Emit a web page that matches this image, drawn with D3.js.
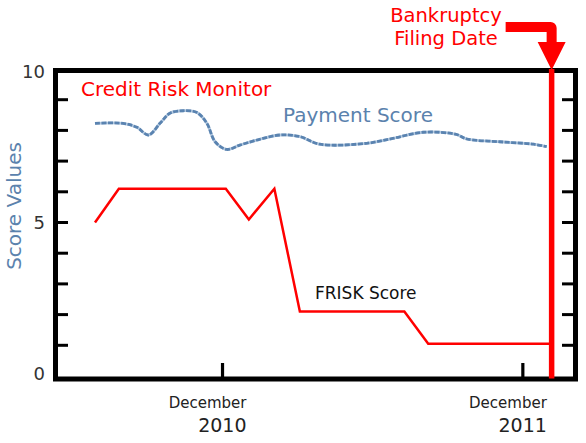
<!DOCTYPE html>
<html>
<head>
<meta charset="utf-8">
<script src="https://cdn.jsdelivr.net/npm/d3@7"></script>
<style>
  html, body { margin: 0; padding: 0; background: #fff; }
  svg { display: block; font-family: "DejaVu Sans", sans-serif; }
</style>
</head>
<body>
<svg id="chart" width="586" height="443"></svg>
<script>
// ---- data ----
const friskDates  = ["2010-06-29","2010-07-28","2010-12-05","2011-01-02","2011-02-02","2011-03-05","2011-07-10","2011-08-08","2012-01-03"];
const friskValues = [5.0, 6.1, 6.1, 5.1, 6.1, 2.1, 2.1, 1.05, 1.05];

const paymentDates  = ["2010-06-29","2010-08-02","2010-08-19","2010-09-02","2010-09-16","2010-09-28","2010-10-14","2010-10-31","2010-11-12","2010-11-22","2010-12-06","2010-12-22","2011-01-15","2011-02-09","2011-03-05","2011-03-29","2011-05-25","2011-06-26","2011-08-02","2011-09-11","2011-09-24","2011-11-03","2011-12-14","2011-12-30"];
const paymentValues = [8.23, 8.23, 8.1, 7.85, 8.23, 8.56, 8.64, 8.58, 8.23, 7.63, 7.38, 7.52, 7.71, 7.85, 7.8, 7.55, 7.58, 7.74, 7.94, 7.87, 7.72, 7.63, 7.55, 7.47];

const xDomain = ["2010-05-12", "2012-02-03"];
const xTickDates = ["2010-12-01", "2011-12-01"];
const xTickMonths = ["December", "December"];
const xTickYears = ["2010", "2011"];
const yTicks = [0, 1, 2, 3, 4, 5, 6, 7, 8, 9, 10];
const yLabels = [0, 5, 10];
const bankruptcyDate = "2012-01-05";

// ---- setup ----
const parse = d3.utcParse("%Y-%m-%d");
const svg = d3.select("#chart");
const L = 55.5, R = 575.5, T = 70.5, B = 379;

const x = d3.scaleUtc().domain(xDomain.map(parse)).range([L, R]);
const y = d3.scaleLinear().domain([0, 10]).range([376, 69]);

const red = "#ff0000";
const blue = "#5b82ad";

// ticks (inward)
svg.append("g").selectAll("line.yl")
  .data(yTicks.filter(v => v > 0 && v < 10)).join("line")
  .attr("x1", L + 2).attr("x2", L + 12.5)
  .attr("y1", d => y(d)).attr("y2", d => y(d))
  .attr("stroke", "#000").attr("stroke-width", 3);
svg.append("g").selectAll("line.yr")
  .data(yTicks.filter(v => v > 0 && v < 10)).join("line")
  .attr("x1", R - 2).attr("x2", R - 13.5)
  .attr("y1", d => y(d)).attr("y2", d => y(d))
  .attr("stroke", "#000").attr("stroke-width", 3);
svg.append("g").selectAll("line.xt")
  .data(xTickDates).join("line")
  .attr("x1", d => x(parse(d))).attr("x2", d => x(parse(d)))
  .attr("y1", B - 2).attr("y2", B - 16)
  .attr("stroke", "#000").attr("stroke-width", 3.2);

// frame
svg.append("rect")
  .attr("x", L).attr("y", T).attr("width", R - L).attr("height", B - T)
  .attr("fill", "none").attr("stroke", "#000").attr("stroke-width", 5);

// y labels
svg.append("g").selectAll("text")
  .data(yLabels).join("text")
  .attr("x", 45).attr("y", d => y(d) + 4 + d * 0.5)
  .attr("text-anchor", "end")
  .attr("font-size", 18).attr("fill", "#333")
  .text(d => d);

// x labels
xTickDates.forEach((d, i) => {
  const xx = x(parse(d)) + 24;
  svg.append("text").attr("x", xx).attr("y", 408)
    .attr("text-anchor", "end").attr("font-size", 15).attr("fill", "#222")
    .text(xTickMonths[i]);
  svg.append("text").attr("x", xx).attr("y", 432)
    .attr("text-anchor", "end").attr("font-size", 19).attr("fill", "#222")
    .text(xTickYears[i]);
});

// y axis title
svg.append("text")
  .attr("transform", "translate(21,206) rotate(-90)")
  .attr("text-anchor", "middle").attr("font-size", 20).attr("fill", blue)
  .text("Score Values");

// payment line
const payData = paymentDates.map((d, i) => ({ date: parse(d), v: paymentValues[i] }));
const payLine = d3.line().x(d => x(d.date)).y(d => y(d.v)).curve(d3.curveCatmullRom.alpha(0.5));
svg.append("path").attr("d", payLine(payData))
  .attr("fill", "none").attr("stroke", "#b3c9e0").attr("stroke-width", 2.8);
svg.append("path").attr("d", payLine(payData))
  .attr("fill", "none").attr("stroke", "#5a83b0").attr("stroke-width", 2.8)
  .attr("stroke-dasharray", "5,1.5");

// frisk line
const friskData = friskDates.map((d, i) => ({ date: parse(d), v: friskValues[i] }));
const friskLine = d3.line().x(d => x(d.date)).y(d => y(d.v));
svg.append("path").attr("d", friskLine(friskData))
  .attr("fill", "none").attr("stroke", red).attr("stroke-width", 2.5)
  .attr("stroke-linejoin", "miter");

// bankruptcy line & arrow
const bx = x(parse(bankruptcyDate));
svg.append("line")
  .attr("x1", bx).attr("x2", bx).attr("y1", 69).attr("y2", 378.5)
  .attr("stroke", red).attr("stroke-width", 5.5);
const ap = d3.path();
ap.moveTo(bx - 46, 22);
ap.lineTo(bx - 2, 22);
ap.arcTo(bx + 5, 22, bx + 5, 29, 6);
ap.lineTo(bx + 5, 42);
ap.lineTo(bx + 14, 42);
ap.lineTo(bx, 70);
ap.lineTo(bx - 14, 42);
ap.lineTo(bx - 5, 42);
ap.lineTo(bx - 5, 32);
ap.lineTo(bx - 46, 32);
ap.closePath();
svg.append("path").attr("d", ap.toString()).attr("fill", red);

// annotations
svg.append("text").attr("x", 446).attr("y", 22)
  .attr("text-anchor", "middle").attr("font-size", 19.5).attr("fill", red)
  .text("Bankruptcy");
svg.append("text").attr("x", 446).attr("y", 45)
  .attr("text-anchor", "middle").attr("font-size", 19.5).attr("fill", red)
  .text("Filing Date");
svg.append("text").attr("x", 81).attr("y", 96)
  .attr("font-size", 20).attr("fill", red)
  .text("Credit Risk Monitor");
svg.append("text").attr("x", 283).attr("y", 122)
  .attr("font-size", 20).attr("fill", blue)
  .text("Payment Score");
svg.append("text").attr("x", 315).attr("y", 299)
  .attr("font-size", 17).attr("fill", "#111")
  .text("FRISK Score");
</script>
</body>
</html>
